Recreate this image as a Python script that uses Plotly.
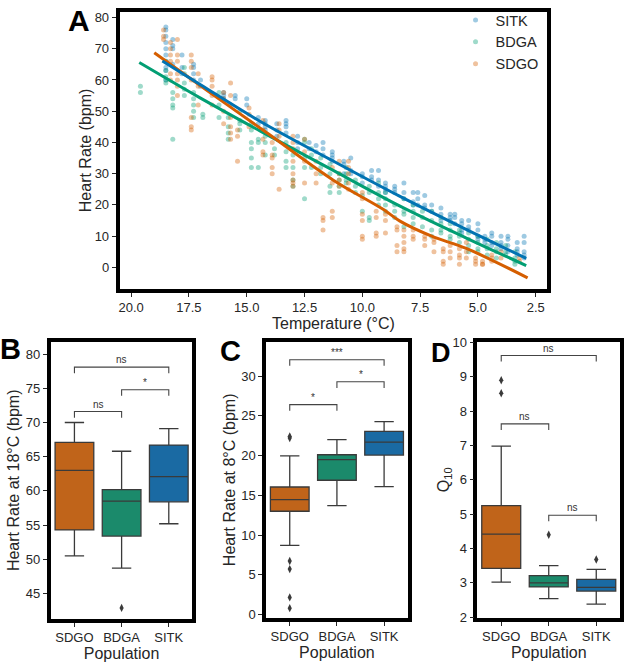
import plotly.graph_objects as go

# ---------------- data ----------------
populations = ["SDGO", "BDGA", "SITK"]
pop_colors = {"SITK": "#0173b2", "BDGA": "#029e73", "SDGO": "#d55e00"}
box_colors = {"SDGO": "#c0641a", "BDGA": "#1b8a6b", "SITK": "#1a6aa3"}

# Panel A scatter: (temperature, [heart rates])
sitk_points = [
    (18.5, [77, 76, 74, 72, 70, 68, 66, 64, 63, 60]), (18.2, [73, 71, 70, 65]),
    (17.8, [68, 64, 62]), (17.3, [65, 64, 62, 60]), (17.0, [60, 58]),
    (16.0, [56, 55, 54]), (15.5, [55, 54]), (15.0, [54, 52]), (14.5, [48, 46]),
    (14.2, [47, 46, 45, 44]), (13.7, [46, 44, 42]), (13.3, [47, 46, 45, 43]),
    (12.8, [42, 40, 38]), (12.3, [40, 38]), (12.0, [39, 37]), (11.7, [40, 38, 36]),
    (11.3, [37, 36, 35, 34]), (10.8, [34, 33, 30]), (10.5, [35, 31, 30]),
    (10.0, [30, 29, 27]), (9.6, [31, 29, 28]), (9.3, [31, 28, 26]),
    (9.0, [27, 26, 25, 24]), (8.6, [26, 25, 24]), (8.2, [27, 24, 22]),
    (7.8, [24, 21, 20]), (7.6, [24, 22, 20]), (7.3, [23, 20, 19]), (7.0, [20, 18]),
    (6.6, [19, 17, 15]), (6.2, [17, 16, 15]), (6.0, [17, 16, 14]),
    (5.7, [15, 14, 12, 11]), (5.4, [15, 13, 12]), (5.0, [14, 12, 10, 9]),
    (4.7, [10, 9, 8]), (4.4, [11, 10, 8, 7]), (4.0, [10, 8, 7, 6]),
    (3.7, [10, 9, 7, 5]), (3.3, [8, 6, 5, 4]), (3.0, [10, 8, 5, 4, 3]),
]
bdga_points = [
    (19.6, [58, 56]), (18.5, [66, 63, 61, 60, 59]), (18.2, [56, 54, 52, 51, 41]),
    (17.7, [64, 62, 59, 57, 55]), (17.3, [56, 54, 52, 50, 48]), (16.9, [49, 48]),
    (16.2, [56, 52, 48]), (15.8, [48, 45, 43, 41]), (15.3, [50, 47, 46, 44]),
    (14.8, [46, 44, 40, 38, 35, 32]), (14.5, [41, 40, 32]), (14.2, [42, 40, 36]),
    (13.8, [38, 36]), (13.3, [40, 37, 34, 32]), (13.0, [36, 32, 28, 26]),
    (12.5, [41, 40, 35, 32, 22]), (12.2, [38, 36, 32]), (11.8, [35, 32, 30]),
    (11.4, [33, 30, 26, 24]), (11.0, [30, 28, 26, 24]), (10.7, [32, 30, 28, 27]),
    (10.3, [28, 26, 24]), (10.0, [23, 18]), (9.7, [26, 24, 16, 15]),
    (9.3, [27, 24, 22, 20]), (9.0, [24, 22, 20, 18]), (8.6, [20, 18, 16]),
    (8.2, [22, 18, 17, 13]), (7.8, [20, 18, 16, 14]), (7.4, [18, 16, 13]),
    (7.0, [18, 15, 12, 10]), (6.6, [16, 14, 12, 11]), (6.2, [14, 12, 10, 9]),
    (5.8, [12, 11, 10, 8]), (5.4, [11, 9, 7, 5]), (5.0, [10, 8, 6, 5]),
    (4.6, [9, 7, 6, 4]), (4.2, [8, 6, 5, 3]), (3.8, [7, 5, 4]), (3.4, [5, 3, 2, 1]),
]
sdgo_points = [
    (18.6, [76, 74, 73]), (18.3, [72, 70, 68, 66, 62, 60]),
    (18.0, [73, 68, 66, 62, 60, 58, 55]), (17.4, [68, 66, 64, 60, 48, 45, 44]),
    (17.1, [62, 58, 52]), (16.5, [61, 60, 58, 55, 52]), (16.0, [56, 54, 50, 46]),
    (15.7, [59, 55, 52, 48, 45, 43, 41]), (15.4, [44, 42, 34]), (14.9, [51, 49, 45]),
    (14.3, [47, 44, 41, 37, 36]), (13.9, [40, 36, 35, 32, 30]), (13.6, [46, 44, 42, 25]),
    (13.0, [42, 40, 38, 34, 30, 28, 27, 26]), (12.5, [41, 37, 34, 27]),
    (12.0, [34, 30, 27]), (11.7, [16, 15, 12]), (11.3, [32, 27, 18, 16]),
    (11.0, [34, 30, 28, 26]), (10.6, [34, 32, 30, 27, 25]),
    (10.0, [24, 22, 17, 15, 10, 9]), (9.4, [18, 16, 11, 10]), (9.0, [17, 15, 11]),
    (8.5, [13, 12, 7, 5]), (8.2, [12, 10, 8, 6, 5]), (7.8, [12, 10, 9]),
    (7.3, [10, 9, 7]), (6.9, [9, 8, 5]), (6.5, [6, 5, 2, 1]), (6.2, [7, 5, 3]),
    (5.8, [6, 4, 3, 1]), (5.5, [8, 5, 3]), (5.1, [3, 2, 1]), (4.8, [1, 1, 2]),
    (4.4, [4, 3, 2]), (4.0, [5, 3]), (3.2, [3, 2]),
]

# Panel A smoothed fits (temperature, heart rate)
sitk_fit_t = [18.65, 17.0, 14.43, 11.4, 8.39, 5.6, 2.91]
sitk_fit_hr = [66.1, 58.5, 46.8, 34.6, 22.8, 12.5, 2.9]
bdga_fit_t = [19.65, 17.0, 14.43, 11.4, 8.39, 5.5, 2.91]
bdga_fit_hr = [65.6, 54.2, 43.7, 31.6, 19.7, 9.4, 0.6]
sdgo_fit_t = [19.0, 16.5, 14.04, 11.27, 9.1, 8.39, 7.0, 5.5, 2.85]
sdgo_fit_hr = [68.7, 55.5, 42.6, 28.0, 18.6, 14.9, 10.0, 6.05, -3.35]

# Panel B: heart rate at 18 C   (order: SDGO, BDGA, SITK)
b_low = [50.5, 48.7, 55.2]
b_q1 = [54.3, 53.4, 58.4]
b_med = [63.0, 58.5, 62.1]
b_q3 = [67.1, 60.2, 66.7]
b_high = [70.0, 65.8, 69.1]
b_outliers = [[], [42.9], []]
b_sig = [("SDGO", "SITK", 78.1, "ns"), ("BDGA", "SITK", 74.8, "*"), ("SDGO", "BDGA", 71.6, "ns")]

# Panel C: heart rate at 8 C
c_low = [8.7, 13.7, 16.1]
c_q1 = [13.0, 16.9, 20.06]
c_med = [14.45, 19.5, 21.7]
c_q3 = [16.05, 20.1, 23.05]
c_high = [19.97, 22.0, 24.27]
c_outliers = [[22.2, 22.4, 6.75, 5.73, 2.17, 0.82], [], []]
c_sig = [("SDGO", "SITK", 32.05, "***"), ("BDGA", "SITK", 29.27, "*"), ("SDGO", "BDGA", 26.4, "*")]

# Panel D: Q10
d_low = [3.02, 2.54, 2.38]
d_q1 = [3.42, 2.88, 2.76]
d_med = [4.42, 3.0, 2.87]
d_q3 = [5.25, 3.21, 3.1]
d_high = [6.98, 3.5, 3.39]
d_outliers = [[8.9, 8.52], [4.4], [3.68]]
d_sig = [("SDGO", "SITK", 9.62, "ns"), ("SDGO", "BDGA", 7.63, "ns"), ("BDGA", "SITK", 4.97, "ns")]

# ---------------- figure ----------------
W, H = 624, 665
FONT = "Liberation Sans, Arial, sans-serif"
TICKC = "#262626"
fig = go.Figure()


def flatten(points):
    xs, ys = [], []
    for t, vals in points:
        for v in vals:
            xs.append(t)
            ys.append(v)
    return xs, ys


for name, pts in [("SITK", sitk_points), ("BDGA", bdga_points), ("SDGO", sdgo_points)]:
    xs, ys = flatten(pts)
    fig.add_trace(go.Scatter(x=xs, y=ys, mode="markers", name=name,
                             marker=dict(size=5, color=pop_colors[name], opacity=0.38, line=dict(width=0)),
                             xaxis="x", yaxis="y", showlegend=True))

for name, ft, fh in [("BDGA", bdga_fit_t, bdga_fit_hr), ("SDGO", sdgo_fit_t, sdgo_fit_hr),
                     ("SITK", sitk_fit_t, sitk_fit_hr)]:
    fig.add_trace(go.Scatter(x=ft, y=fh, mode="lines", line=dict(color=pop_colors[name], width=3, shape="spline"),
                             xaxis="x", yaxis="y", showlegend=False, hoverinfo="skip"))


def add_box_panel(ax, low, q1, med, q3, high, outliers, sig, ymin, ymax):
    xa = "x" + ax
    ya = "y" + ax
    for i, pop in enumerate(populations):
        fig.add_trace(go.Box(x=[i], q1=[q1[i]], median=[med[i]], q3=[q3[i]],
                             lowerfence=[low[i]], upperfence=[high[i]],
                             width=0.82, whiskerwidth=0.5,
                             fillcolor=box_colors[pop], line=dict(color="#3a3a3a", width=1.3),
                             boxpoints=False, showlegend=False, xaxis=xa, yaxis=ya, hoverinfo="skip"))
        if outliers[i]:
            fig.add_trace(go.Scatter(x=[i] * len(outliers[i]), y=outliers[i], mode="markers",
                                     marker=dict(symbol="diamond-tall", size=6, color="#3a3a3a"),
                                     showlegend=False, xaxis=xa, yaxis=ya, hoverinfo="skip"))
    drop = (ymax - ymin) * 0.022
    for a, b, y, lab in sig:
        xa_i, xb_i = populations.index(a), populations.index(b)
        fig.add_trace(go.Scatter(x=[xa_i, xa_i, xb_i, xb_i], y=[y - drop, y, y, y - drop], mode="lines",
                                 line=dict(color="#444", width=1.1), showlegend=False,
                                 xaxis=xa, yaxis=ya, hoverinfo="skip"))
        fig.add_annotation(x=(xa_i + xb_i) / 2, y=y, xref=xa, yref=ya, text=lab, showarrow=False,
                           yanchor="bottom", yshift=0, font=dict(size=10, color="#333", family=FONT))


add_box_panel("2", b_low, b_q1, b_med, b_q3, b_high, b_outliers, b_sig, 41.3, 81.8)
add_box_panel("3", c_low, c_q1, c_med, c_q3, c_high, c_outliers, c_sig, -0.4, 34.3)
add_box_panel("4", d_low, d_q1, d_med, d_q3, d_high, d_outliers, d_sig, 1.98, 10.02)


def dom_x(a, b):
    return [a / W, b / W]


def dom_y(top, bottom):
    return [1 - bottom / H, 1 - top / H]


axis_common = dict(showline=True, linecolor="black", linewidth=3.8, mirror=True,
                   ticks="outside", ticklen=4, tickwidth=1.2, tickcolor=TICKC,
                   showgrid=False, zeroline=False,
                   tickfont=dict(size=13, color=TICKC, family=FONT),
                   title_font=dict(size=16, color=TICKC, family=FONT))

temp_ticks = [20.0, 17.5, 15.0, 12.5, 10.0, 7.5, 5.0, 2.5]
fig.update_layout(
    width=W, height=H, margin=dict(l=0, r=0, t=0, b=0),
    paper_bgcolor="white", plot_bgcolor="white",
    font=dict(family=FONT, color=TICKC),
    xaxis=dict(domain=dom_x(119, 548), range=[20.5, 2.0], anchor="y",
               tickvals=temp_ticks, ticktext=[f"{t:.1f}" for t in temp_ticks],
               title=dict(text="Temperature (°C)", standoff=2), **axis_common),
    yaxis=dict(domain=dom_y(5, 288), range=[-6.9, 81.8], anchor="x",
               tickvals=list(range(0, 81, 10)),
               title=dict(text="Heart Rate (bpm)", standoff=0), **axis_common),
    xaxis2=dict(domain=dom_x(50, 192), range=[-0.5, 2.5], anchor="y2",
                tickvals=[0, 1, 2], ticktext=populations,
                title=dict(text="Population", standoff=2), **axis_common),
    yaxis2=dict(domain=dom_y(342, 625), range=[41.3, 81.8], anchor="x2",
                tickvals=list(range(45, 81, 5)),
                title=dict(text="Heart Rate at 18°C (bpm)", standoff=3), **axis_common),
    xaxis3=dict(domain=dom_x(266, 408), range=[-0.5, 2.5], anchor="y3",
                tickvals=[0, 1, 2], ticktext=populations,
                title=dict(text="Population", standoff=2), **axis_common),
    yaxis3=dict(domain=dom_y(342, 624), range=[-0.4, 34.3], anchor="x3",
                tickvals=list(range(0, 31, 5)),
                title=dict(text="Heart Rate at 8°C (bpm)", standoff=3), **axis_common),
    xaxis4=dict(domain=dom_x(478, 621), range=[-0.5, 2.5], anchor="y4",
                tickvals=[0, 1, 2], ticktext=populations,
                title=dict(text="Population", standoff=2), **axis_common),
    yaxis4=dict(domain=dom_y(342, 624), range=[1.98, 10.02], anchor="x4",
                tickvals=list(range(2, 11, 1)),
                title=dict(text="Q<sub>10</sub>", standoff=0), **axis_common),
    legend=dict(x=456 / W, y=1 + 3 / H, xanchor="left", yanchor="top",
                bgcolor="rgba(0,0,0,0)", font=dict(size=14.5, color=TICKC, family=FONT),
                itemwidth=30, tracegroupgap=0),
)

for letter, px, py, fs in [("A", 78, 14, 30), ("B", 10, 349, 29), ("C", 230, 351, 29), ("D", 441, 353, 27)]:
    fig.add_annotation(x=px / W, y=1 - py / H, xref="paper", yref="paper", text=f"<b>{letter}</b>",
                       showarrow=False, xanchor="center", yanchor="middle",
                       font=dict(size=fs, color="black", family=FONT))

fig.write_html("out.html")
